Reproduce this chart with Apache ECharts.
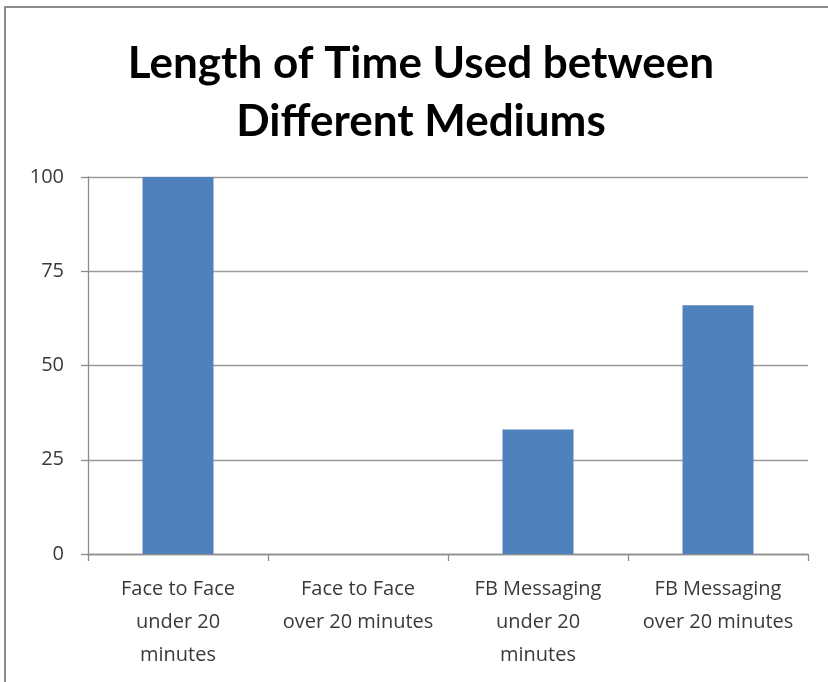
<!DOCTYPE html>
<html>
<head>
<meta charset="utf-8">
<script src="https://cdn.jsdelivr.net/npm/echarts@6/dist/echarts.min.js"></script>
<style>
html,body{margin:0;padding:0;background:#fff;}
#chart{width:828px;height:682px;}
</style>
</head>
<body>
<div id="chart"></div>
<script>
var titleText = "Length of Time Used between\nDifferent Mediums";
var categories = [
  "Face to Face\nunder 20\nminutes",
  "Face to Face\nover 20 minutes",
  "FB Messaging\nunder 20\nminutes",
  "FB Messaging\nover 20 minutes"
];
var values = [100, 0, 33, 66];
var yTicks = { min: 0, max: 100, interval: 25 };

var chart = echarts.init(document.getElementById('chart'), null, { renderer: 'canvas' });
chart.setOption({
  backgroundColor: '#ffffff',
  animation: false,
  graphic: [
    {
      type: 'rect',
      shape: { x: 5, y: 7, width: 900, height: 900 },
      style: { fill: 'none', stroke: '#8c8c8c', lineWidth: 2 },
      silent: true
    },
    {
      type: 'text',
      x: 421,
      y: 35,
      style: {
        text: titleText,
        font: 'bold 44px Lato',
        fill: '#000000',
        textAlign: 'center',
        textVerticalAlign: 'top',
        lineHeight: 58
      }
    }
  ],
  grid: { left: 88, right: 20, top: 177, bottom: 128, containLabel: false },
  xAxis: {
    type: 'category',
    data: categories,
    axisLine: { show: true, lineStyle: { color: '#8c8c8c', width: 1.3 } },
    axisTick: { show: true, length: 7, lineStyle: { color: '#8c8c8c', width: 1.3 } },
    axisLabel: {
      margin: 19,
      fontFamily: 'Open Sans',
      fontSize: 20,
      lineHeight: 33,
      color: '#3a3a3a',
      interval: 0
    }
  },
  yAxis: {
    type: 'value',
    min: yTicks.min,
    max: yTicks.max,
    interval: yTicks.interval,
    axisLine: { show: true, lineStyle: { color: '#8c8c8c', width: 1.3 } },
    axisTick: { show: true, length: 7, lineStyle: { color: '#8c8c8c', width: 1.3 } },
    splitLine: { show: true, lineStyle: { color: '#9a9a9a', width: 1.3 } },
    axisLabel: {
      margin: 24,
      fontFamily: 'Open Sans',
      fontSize: 20,
      color: '#3a3a3a'
    }
  },
  series: [{
    type: 'bar',
    data: values,
    barWidth: 71,
    itemStyle: { color: '#4f81bd' }
  }]
});
</script>
</body>
</html>
